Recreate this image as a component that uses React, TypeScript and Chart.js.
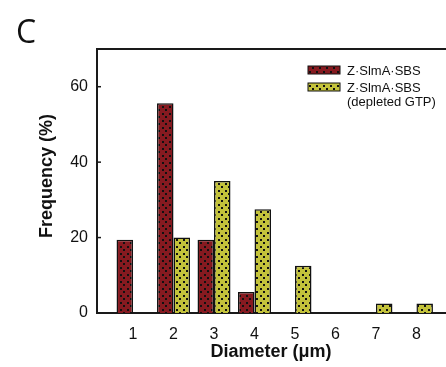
import React, { useEffect, useRef } from "react";
import { Chart, registerables } from "chart.js";

Chart.register(...registerables);

const diameters = [1, 2, 3, 4, 5, 6, 7, 8];
const seriesNames = ["Z·SlmA·SBS", "Z·SlmA·SBS"];
const legendExtra = "(depleted GTP)";
const slmaValues = [19.4, 55.6, 19.4, 5.6, 0, 0, 0, 0];
const depletedValues = [0, 20, 35, 27.5, 12.5, 0, 2.5, 2.5];
const yTicks = [0, 20, 40, 60];
const yTitle = "Frequency (%)";
const xTitle = "Diameter (μm)";
const panelLabel = "C";

const RED = "#861a20";
const YEL = "#c3c23b";

function makePattern(color: string): CanvasPattern | string {
  const c = document.createElement("canvas");
  c.width = 7;
  c.height = 7;
  const g = c.getContext("2d");
  if (!g) return color;
  g.fillStyle = color;
  g.fillRect(0, 0, 7, 7);
  g.fillStyle = "#111";
  g.fillRect(1, 1, 2, 2);
  g.fillRect(4, 4, 2, 2);
  const p = g.createPattern(c, "repeat");
  return p || color;
}

function toPoints(vals: number[]) {
  return diameters
    .map((d, i) => ({ x: d, y: vals[i] }))
    .filter((p) => p.y > 0);
}

export default function App() {
  const ref = useRef<HTMLCanvasElement | null>(null);

  useEffect(() => {
    if (!ref.current) return;
    const redPat = makePattern(RED);
    const yelPat = makePattern(YEL);
    const FONT = "'Liberation Sans', Arial, sans-serif";

    const decor = {
      id: "decor",
      afterDraw(chart: any) {
        const ctx = chart.ctx;
        const a = chart.chartArea;
        const ys = chart.scales.y;
        ctx.save();
        ctx.strokeStyle = "#1a1a1a";
        ctx.lineWidth = 2;
        ctx.beginPath();
        ctx.moveTo(a.left - 1, a.top);
        ctx.lineTo(a.right, a.top);
        ctx.stroke();
        ctx.lineWidth = 1.5;
        yTicks.forEach((v) => {
          if (v === 0) return;
          const py = ys.getPixelForValue(v);
          ctx.beginPath();
          ctx.moveTo(a.left, py);
          ctx.lineTo(a.left + 4, py);
          ctx.stroke();
        });
        ctx.fillStyle = "#111";
        ctx.font = `32px 'Open Sans', sans-serif`;
        ctx.textAlign = "center";
        ctx.textBaseline = "middle";
        ctx.fillText(panelLabel, 26, 34);
        ctx.font = `bold 18px ${FONT}`;
        ctx.fillText(xTitle, 271, 352);
        ctx.save();
        ctx.translate(47, 176);
        ctx.rotate(-Math.PI / 2);
        ctx.fillText(yTitle, 0, 0);
        ctx.restore();
        const sw = [redPat, yelPat];
        const rows = [70, 87];
        ctx.font = `13px ${FONT}`;
        ctx.textAlign = "left";
        rows.forEach((ry, i) => {
          ctx.fillStyle = sw[i] as any;
          ctx.fillRect(308, ry - 4, 32, 8);
          ctx.strokeStyle = "#111";
          ctx.lineWidth = 1;
          ctx.strokeRect(308, ry - 4, 32, 8);
          ctx.fillStyle = "#111";
          ctx.fillText(seriesNames[i], 347, ry + 1);
        });
        ctx.fillText(legendExtra, 347, 102);
        ctx.restore();
      },
    };

    const chart = new Chart(ref.current, {
      type: "bar",
      data: {
        datasets: [
          {
            label: seriesNames[0],
            data: toPoints(slmaValues) as any,
            backgroundColor: redPat as any,
            borderColor: "#111",
            borderWidth: 1.5,
          },
          {
            label: seriesNames[1] + " " + legendExtra,
            data: toPoints(depletedValues) as any,
            backgroundColor: yelPat as any,
            borderColor: "#111",
            borderWidth: 1.5,
          },
        ],
      },
      options: {
        responsive: false,
        animation: false,
        devicePixelRatio: 1,
        layout: { padding: { left: 0, top: 49, right: 0, bottom: 0 } },
        datasets: {
          bar: { categoryPercentage: 0.815, barPercentage: 1, grouped: true },
        },
        plugins: { legend: { display: false }, tooltip: { enabled: false } },
        scales: {
          x: {
            type: "linear",
            min: 0.11,
            max: 8.73,
            offset: false,
            grid: { display: false, drawTicks: false },
            border: { display: true, color: "#1a1a1a", width: 2 },
            ticks: {
              padding: 12,
              color: "#111",
              font: { size: 16, family: FONT },
              autoSkip: false,
              maxRotation: 0,
            },
            afterBuildTicks: (s: any) => {
              s.ticks = diameters.map((v) => ({ value: v }));
            },
            afterFit: (s: any) => {
              s.height = 367 - 313;
            },
          },
          y: {
            min: 0,
            max: 70,
            grid: { display: false, drawTicks: false },
            border: { display: true, color: "#1a1a1a", width: 2 },
            ticks: {
              padding: 9,
              color: "#111",
              font: { size: 16, family: FONT },
            },
            afterBuildTicks: (s: any) => {
              s.ticks = yTicks.map((v) => ({ value: v }));
            },
            afterFit: (s: any) => {
              s.width = 97;
            },
          },
        },
      },
      plugins: [decor],
    });
    return () => chart.destroy();
  }, []);

  return (
    <div
      style={{
        position: "fixed",
        left: 0,
        top: 0,
        width: 446,
        height: 367,
        overflow: "hidden",
        background: "#fff",
      }}
    >
      <canvas ref={ref} width={446} height={367} style={{ width: 446, height: 367 }} />
    </div>
  );
}
